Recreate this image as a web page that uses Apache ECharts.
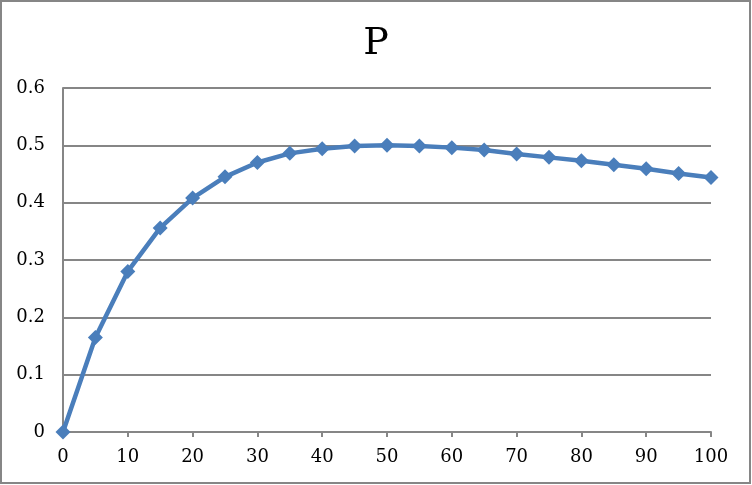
<!DOCTYPE html>
<html><head><meta charset="utf-8">
<script src="https://cdn.jsdelivr.net/npm/echarts@6/dist/echarts.min.js"></script>
<style>html,body{margin:0;padding:0;background:#fff}#c{width:752px;height:485px}</style>
</head><body><div id="c"></div>
<script>
const titleText = 'P';
const xValues = [0,5,10,15,20,25,30,35,40,45,50,55,60,65,70,75,80,85,90,95,100];
const pValues = [0,0.165,0.28,0.356,0.408,0.445,0.47,0.486,0.494,0.499,0.5,0.499,0.496,0.492,0.485,0.479,0.473,0.466,0.459,0.451,0.444];
const yMin = 0, yMax = 0.6, yStep = 0.1;
const xMin = 0, xMax = 100, xStep = 10;

const font = '"DejaVu Serif", "Liberation Serif", serif';
const chart = echarts.init(document.getElementById('c'));
chart.setOption({
  animation: false,
  title: { text: titleText, left: 'center', top: 20,
    textStyle: { fontFamily: font, fontSize: 38, fontWeight: 'normal', color: '#000' } },
  graphic: [{ type: 'rect', shape: { x: 1, y: 1, width: 749, height: 482 },
    style: { fill: 'none', stroke: '#868686', lineWidth: 2 }, silent: true }],
  grid: { left: 63, right: 41, top: 88, bottom: 53 },
  xAxis: { type: 'value', min: xMin, max: xMax, interval: xStep,
    axisLine: { lineStyle: { color: '#868686', width: 2 } },
    axisTick: { show: true, length: 5, lineStyle: { color: '#868686', width: 2 } },
    splitLine: { show: false },
    axisLabel: { fontFamily: font, fontSize: 18, color: '#000', margin: 16 } },
  yAxis: { type: 'value', min: yMin, max: yMax, interval: yStep,
    axisLine: { show: true, lineStyle: { color: '#868686', width: 2 } },
    axisTick: { show: false },
    splitLine: { lineStyle: { color: '#868686', width: 2 } },
    axisLabel: { fontFamily: font, fontSize: 18, color: '#000', margin: 18,
      formatter: v => String(Math.round(v*10)/10) } },
  series: [{ type: 'line', data: xValues.map((x,i)=>[x,pValues[i]]),
    symbol: 'diamond', symbolSize: 15, showSymbol: true,
    lineStyle: { color: '#4a7ebb', width: 4.5 },
    itemStyle: { color: '#4a7ebb' } }]
});
</script></body></html>
